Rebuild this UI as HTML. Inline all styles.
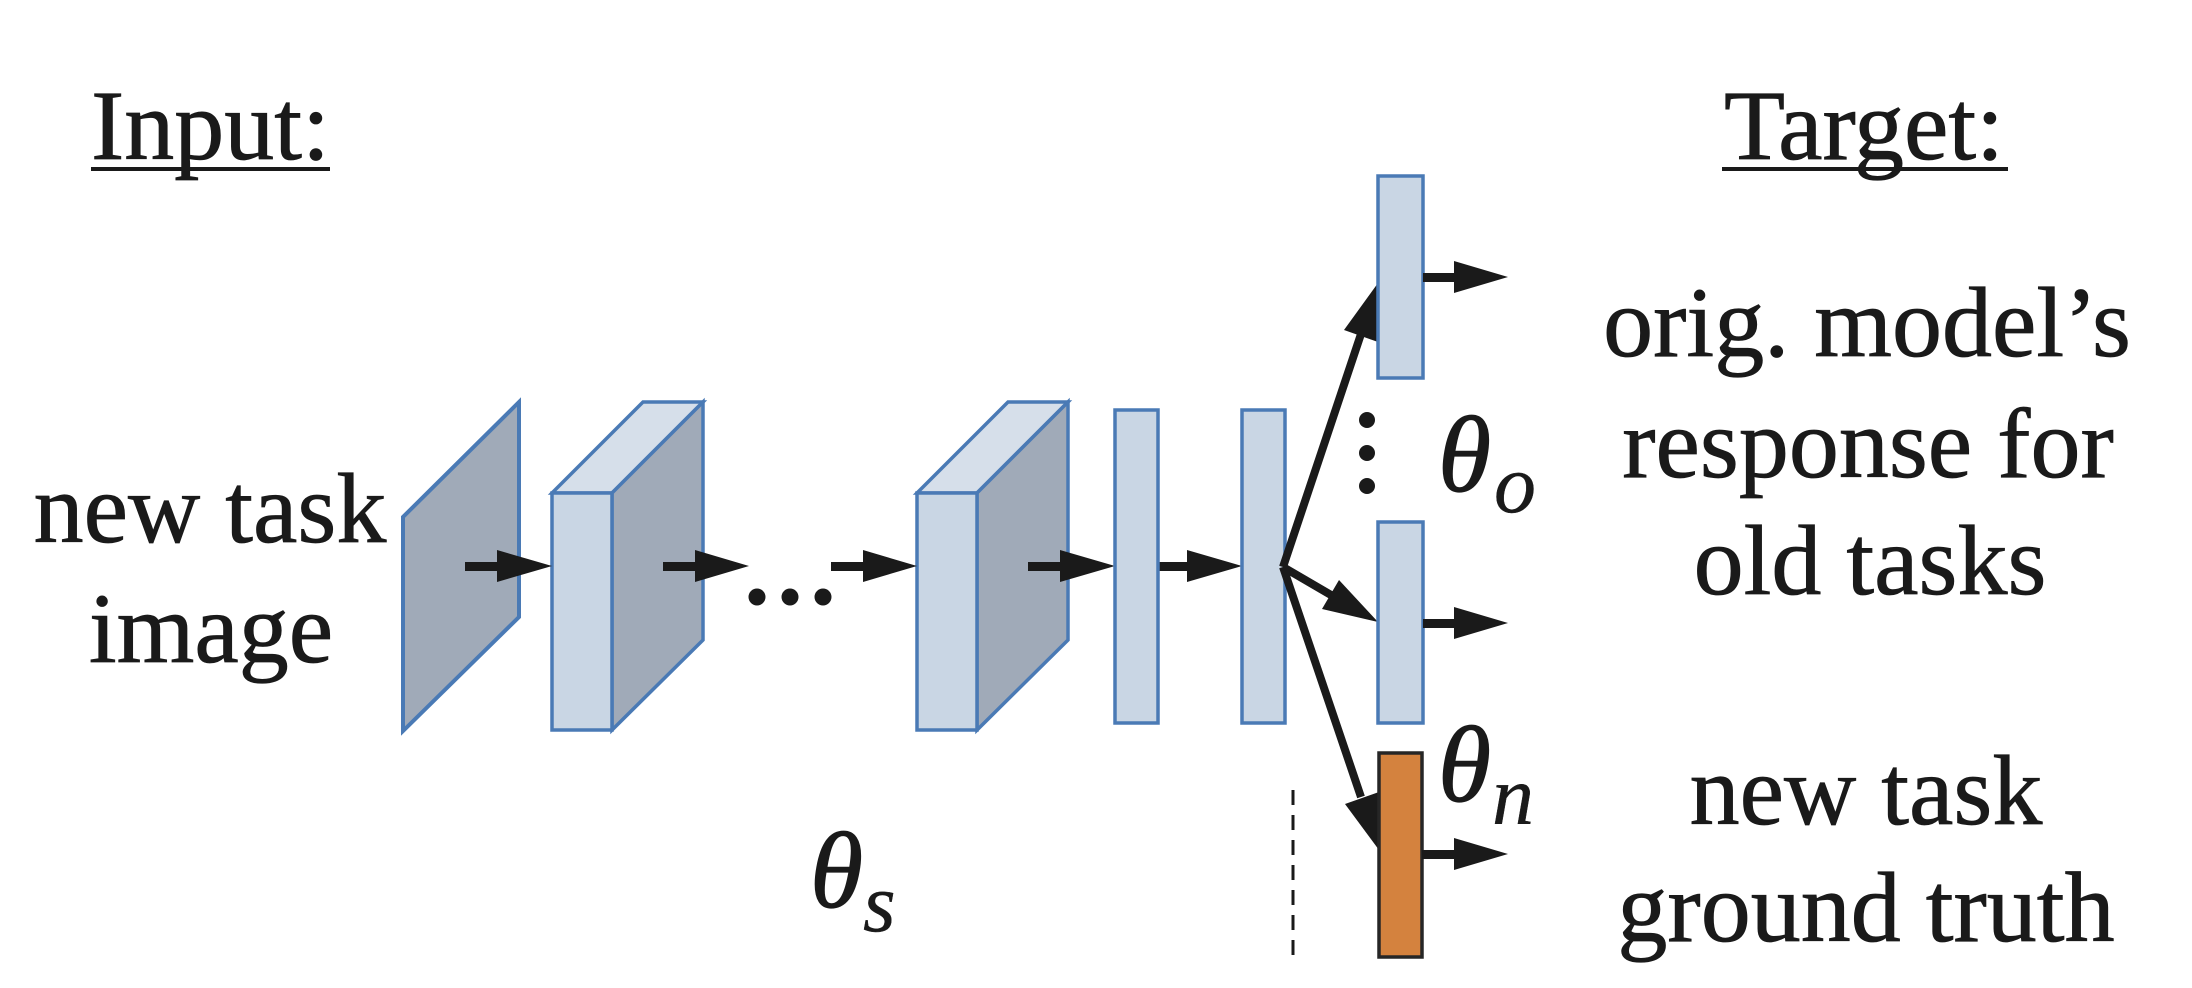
<!DOCTYPE html>
<html>
<head>
<meta charset="utf-8">
<style>
  html, body { margin: 0; padding: 0; background: #ffffff; }
  body { width: 2192px; height: 988px; overflow: hidden; }
  svg { display: block; }
  .t { font-family: "Liberation Serif", "Times New Roman", serif; font-size: 100px; fill: #1a1a1a; stroke: #1a1a1a; stroke-width: 0.8px; }
  .th { font-family: "Liberation Serif", "DejaVu Serif", serif; font-style: italic; fill: #1a1a1a; stroke: #1a1a1a; stroke-width: 1.2px; }
  .sub { font-family: "Liberation Serif", "DejaVu Serif", serif; font-style: italic; fill: #1a1a1a; stroke: #1a1a1a; stroke-width: 0.4px; }
</style>
</head>
<body>
<svg width="2192" height="988" viewBox="0 0 2192 988" xmlns="http://www.w3.org/2000/svg">
  <rect x="0" y="0" width="2192" height="988" fill="#ffffff"/>

  <!-- Titles -->
  <text class="t" x="91" y="159">Input:</text>
  <rect x="91" y="167" width="239" height="4" fill="#1a1a1a"/>
  <text class="t" x="1864" y="159" text-anchor="middle">Target:</text>
  <rect x="1722" y="167" width="286" height="4" fill="#1a1a1a"/>

  <!-- Left labels -->
  <text class="t" x="210" y="542" text-anchor="middle">new task</text>
  <text class="t" x="211" y="662" text-anchor="middle">image</text>

  <!-- Right labels -->
  <text class="t" x="1867" y="356" text-anchor="middle">orig. model’s</text>
  <text class="t" x="1868" y="477" text-anchor="middle">response for</text>
  <text class="t" x="1870" y="594" text-anchor="middle">old tasks</text>
  <text class="t" x="1866" y="824" text-anchor="middle">new task</text>
  <text class="t" x="1866" y="941" text-anchor="middle">ground truth</text>

  <!-- Input plane -->
  <polygon points="519,402 403,517 403,731 519,617" fill="#a0aab8" stroke="#4a7ab5" stroke-width="4" stroke-linejoin="miter"/>

  <!-- Block 1 -->
  <polygon points="552,493 643,402 703,402 612,493" fill="#d6dfea" stroke="#4a7ab5" stroke-width="3.5"/>
  <polygon points="612,493 703,402 703,640 612,730" fill="#a0aab8" stroke="#4a7ab5" stroke-width="3.5"/>
  <rect x="552" y="493" width="60" height="237" fill="#c9d6e4" stroke="#4a7ab5" stroke-width="3.5"/>

  <!-- Block 2 -->
  <polygon points="917,493 1008,402 1068,402 977,493" fill="#d6dfea" stroke="#4a7ab5" stroke-width="3.5"/>
  <polygon points="977,493 1068,402 1068,640 977,730" fill="#a0aab8" stroke="#4a7ab5" stroke-width="3.5"/>
  <rect x="917" y="493" width="60" height="237" fill="#c9d6e4" stroke="#4a7ab5" stroke-width="3.5"/>

  <!-- Horizontal arrows along main path -->
  <g fill="#1a1a1a">
    <rect x="465" y="562" width="34" height="9"/>
    <polygon points="497,550 552,566 497,582"/>
    <rect x="663" y="562" width="34" height="9"/>
    <polygon points="695,550 749,566 695,582"/>
    <rect x="831" y="562" width="34" height="9"/>
    <polygon points="863,550 917,566 863,582"/>
    <rect x="1028" y="562" width="34" height="9"/>
    <polygon points="1060,550 1115,566 1060,582"/>
    <rect x="1157" y="562" width="32" height="9"/>
    <polygon points="1187,550 1242,566 1187,582"/>
  </g>

  <!-- ellipsis dots -->
  <g fill="#1a1a1a">
    <circle cx="757" cy="597" r="8.5"/>
    <circle cx="790" cy="597" r="8.5"/>
    <circle cx="823" cy="597" r="8.5"/>
    <circle cx="1367" cy="420" r="8"/>
    <circle cx="1367" cy="453" r="8"/>
    <circle cx="1367" cy="486" r="8"/>
  </g>

  <!-- FC layers -->
  <rect x="1115" y="410" width="43" height="313" fill="#c9d6e4" stroke="#4a7ab5" stroke-width="3.5"/>
  <rect x="1242" y="410" width="43" height="313" fill="#c9d6e4" stroke="#4a7ab5" stroke-width="3.5"/>

  <!-- Branch arrows -->
  <g stroke="#1a1a1a" stroke-width="8" stroke-linecap="butt" fill="none">
    <line x1="1283" y1="567" x2="1361" y2="334"/>
    <line x1="1283" y1="567" x2="1331" y2="595"/>
    <line x1="1283" y1="567" x2="1361" y2="797"/>
  </g>
  <g fill="#1a1a1a">
    <polygon points="1378,283 1378,342 1344,330"/>
    <polygon points="1378,622 1322,609 1339,580"/>
    <polygon points="1379,850 1345,804 1379,792"/>
  </g>

  <!-- Heads -->
  <rect x="1378" y="176" width="45" height="202" fill="#c9d6e4" stroke="#4a7ab5" stroke-width="3.5"/>
  <rect x="1378" y="522" width="45" height="201" fill="#c9d6e4" stroke="#4a7ab5" stroke-width="3.5"/>
  <rect x="1379" y="753" width="43" height="204" fill="#d4823e" stroke="#262626" stroke-width="3.5"/>

  <!-- Output arrows -->
  <g fill="#1a1a1a">
    <rect x="1423" y="273" width="33" height="9"/>
    <polygon points="1454,261 1508,277 1454,293"/>
    <rect x="1423" y="619" width="33" height="9"/>
    <polygon points="1454,607 1508,623 1454,639"/>
    <rect x="1422" y="850" width="34" height="9"/>
    <polygon points="1454,838 1508,854 1454,870"/>
  </g>

  <!-- dashed separator -->
  <line x1="1293" y1="790" x2="1293" y2="964" stroke="#1a1a1a" stroke-width="3" stroke-dasharray="15,10"/>

  <!-- theta labels -->
  <text class="th" x="810" y="907" font-size="108">θ</text>
  <text class="sub" x="863" y="931" font-size="84">s</text>

  <text class="th" x="1438" y="491" font-size="108">θ</text>
  <text class="sub" x="1494" y="512" font-size="84">o</text>

  <text class="th" x="1438" y="801" font-size="108">θ</text>
  <text class="sub" x="1492" y="824" font-size="84">n</text>
</svg>
</body>
</html>
